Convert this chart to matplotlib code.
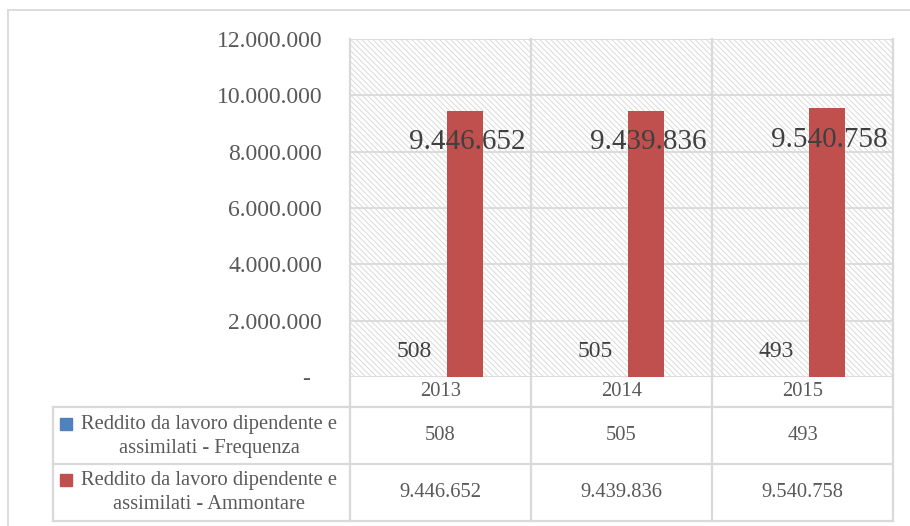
import matplotlib
matplotlib.use("Agg")
import matplotlib.pyplot as plt
from matplotlib.patches import Rectangle
from matplotlib.ticker import FuncFormatter

# ---- data ----
years = ["2013", "2014", "2015"]
series_names = [
    "Reddito da lavoro dipendente e\nassimilati - Frequenza",
    "Reddito da lavoro dipendente e\nassimilati - Ammontare",
]
frequenza = [508, 505, 493]
ammontare = [9446652, 9439836, 9540758]
series_colors = ["#4f81bd", "#c0504d"]
y_ticks = [0, 2000000, 4000000, 6000000, 8000000, 10000000, 12000000]


def fmt_it(v):
    return f"{int(round(v)):,}".replace(",", ".")


plt.rcParams["font.family"] = ["Liberation Serif", "DejaVu Serif"]
plt.rcParams["hatch.linewidth"] = 0.7
GRID = "#d9d9d9"
TXT = "#595959"
LBL = "#404040"

W, H = 910, 526
fig = plt.figure(figsize=(W / 100, H / 100), dpi=100)

# outer chart frame
fig.patches.append(Rectangle((8 / W, -0.02), 1.02, (H - 10) / H + 0.02,
                             transform=fig.transFigure, fill=False,
                             edgecolor=GRID, linewidth=1.3))

# plot area in pixels
px_l, px_r, px_t, px_b = 350, 893, 39, 377
ax = fig.add_axes([px_l / W, (H - px_b) / H, (px_r - px_l) / W, (px_b - px_t) / H])
ax.set_xlim(-0.5, 2.5)
ax.set_ylim(0, 12000000)
ax.set_facecolor("none")
for s in ax.spines.values():
    s.set_visible(False)

# hatched background
ax.add_patch(Rectangle((0, 0), 1, 1, transform=ax.transAxes, facecolor="white",
                       edgecolor="#dadada", hatch="\\" * 6, linewidth=0, zorder=0))

# horizontal gridlines
for t in y_ticks[1:]:
    ax.axhline(t, color=GRID, linewidth=1.3, zorder=1)
ax.axhline(0, color=GRID, linewidth=1.3, zorder=1)

xs = list(range(len(years)))
bw = 0.196
off = 0.135
ax.bar([x - off for x in xs], frequenza, width=bw, color=series_colors[0], zorder=2)
ax.bar([x + off for x in xs], ammontare, width=bw, color=series_colors[1], zorder=2)

# value labels
for x, v in zip(xs, frequenza):
    ax.annotate(fmt_it(v), (x - off, v), xytext=(-1, 18), textcoords="offset points",
                ha="center", va="center", fontsize=17, color=LBL, zorder=4)
for x, v in zip(xs, ammontare):
    ax.annotate(fmt_it(v), (x + off, v), xytext=(2, -22.5), textcoords="offset points",
                ha="center", va="center", fontsize=21, color=LBL, zorder=4)

# y axis
ax.set_yticks(y_ticks)
ax.yaxis.set_major_formatter(FuncFormatter(lambda v, p: "-  " if v == 0 else fmt_it(v)))
ax.tick_params(axis="y", length=0, pad=20, labelsize=17, labelcolor=TXT)
ax.set_xticks([])

# ---- data table under the plot ----
tr = ax.get_xaxis_transform()
ppx = (px_r - px_l) / 3.0  # pixels per category


def ay(py):
    return (px_b - py) / (px_b - px_t)


def dx(px):
    return -0.5 + (px - px_l) / ppx


rows_px = [377, 407, 464, 521]
x_left = dx(53)
line_kw = dict(color=GRID, linewidth=1.6, transform=tr, clip_on=False, zorder=3,
               solid_capstyle="projecting")

# horizontal table lines
for py in rows_px[1:]:
    ax.plot([x_left, 2.5], [ay(py), ay(py)], **line_kw)
# vertical lines: category boundaries through the plot and table
for b in [-0.5, 0.5, 1.5, 2.5]:
    ax.plot([b, b], [1, ay(rows_px[-1])], **line_kw)
ax.plot([x_left, x_left], [ay(rows_px[1]), ay(rows_px[-1])], **line_kw)

# header years
for x, y in zip(xs, years):
    ax.text(x, ay((rows_px[0] + rows_px[1]) / 2), y, transform=tr, ha="center",
            va="center", fontsize=14.8, color=TXT)

# table values
for r, vals in enumerate([frequenza, ammontare]):
    yc = ay((rows_px[r + 1] + rows_px[r + 2]) / 2)
    for x, v in zip(xs, vals):
        ax.text(x, yc, fmt_it(v), transform=tr, ha="center", va="center",
                fontsize=14.8, color=TXT)

# row headers with legend keys
first_line_px = [425, 481]
for r, name in enumerate(series_names):
    lines = name.split("\n")
    for k, ln in enumerate(lines):
        ax.text(dx(209), ay(first_line_px[r] + 23.5 * k), ln, transform=tr,
                ha="center", va="center", fontsize=14.8, color=TXT)
    ax.plot([dx(66.5)], [ay(first_line_px[r] - 1)], marker="s", markersize=8,
            color=series_colors[r], transform=tr, clip_on=False, linestyle="none")

fig.savefig("out.png", dpi=100)
